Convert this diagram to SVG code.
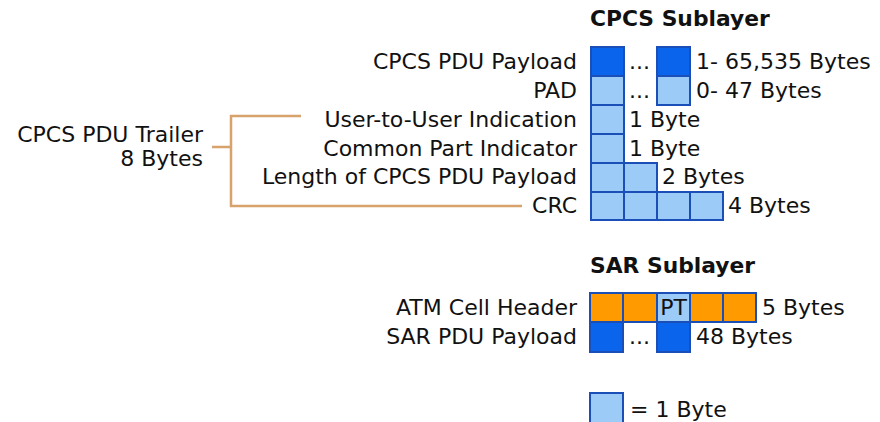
<svg xmlns="http://www.w3.org/2000/svg" width="880" height="422" viewBox="0 0 880 422">
<style>
text{font-family:"DejaVu Sans","Verdana",sans-serif;font-size:22px;fill:#111}
.t{font-weight:bold;font-size:21.8px}
.r{text-anchor:end}
.d{fill:#0a64ec;stroke:#1a4fb8;stroke-width:2}
.l{fill:#9ccbf8;stroke:#1a4fb8;stroke-width:2}
.o{fill:#ff9a00;stroke:#1a4fb8;stroke-width:2}
.br{fill:none;stroke:#d8a26c;stroke-width:2.5}
</style>
<rect width="880" height="422" fill="#fff"/>
<text class="t" x="590" y="26">CPCS Sublayer</text>
<g id="payload">
<text class="r" x="577" y="69">CPCS PDU Payload</text>
<rect class="d" x="591" y="47" width="33" height="29"/>
<text x="629" y="69">...</text>
<rect class="d" x="657" y="47" width="33" height="29"/>
<text x="696" y="69">1- 65,535 Bytes</text>
</g>
<g id="pad">
<text class="r" x="577" y="98">PAD</text>
<rect class="l" x="591" y="76" width="33" height="29"/>
<text x="629" y="98">...</text>
<rect class="l" x="657" y="76" width="33" height="29"/>
<text x="696" y="98">0- 47 Bytes</text>
</g>
<g id="uui">
<text class="r" x="577" y="127">User-to-User Indication</text>
<rect class="l" x="591" y="105" width="33" height="29"/>
<text x="629" y="127">1 Byte</text>
</g>
<g id="cpi">
<text class="r" x="577" y="156">Common Part Indicator</text>
<rect class="l" x="591" y="134" width="33" height="29"/>
<text x="629" y="156">1 Byte</text>
</g>
<g id="length">
<text class="r" x="577" y="184">Length of CPCS PDU Payload</text>
<rect class="l" x="591" y="163" width="33" height="29"/>
<rect class="l" x="624" y="163" width="33" height="29"/>
<text x="662" y="184">2 Bytes</text>
</g>
<g id="crc">
<text class="r" x="577" y="213">CRC</text>
<rect class="l" x="591" y="192" width="33" height="28"/>
<rect class="l" x="624" y="192" width="33" height="28"/>
<rect class="l" x="657" y="192" width="33" height="28"/>
<rect class="l" x="690" y="192" width="33" height="28"/>
<text x="728" y="213">4 Bytes</text>
</g>
<g id="trailer">
<text class="r" x="203" y="142">CPCS PDU Trailer</text>
<text class="r" x="203" y="166">8 Bytes</text>
</g>
<g id="connectors">
<path class="br" d="M301 116H231V206H522M212 147H231"/>
</g>
<text class="t" x="590" y="273">SAR Sublayer</text>
<g id="atm-header">
<text class="r" x="577" y="315">ATM Cell Header</text>
<rect class="o" x="590" y="293" width="33" height="29"/>
<rect class="o" x="623" y="293" width="34" height="29"/>
<rect class="l" x="657" y="293" width="33" height="29"/>
<text x="673.5" y="315" text-anchor="middle">PT</text>
<rect class="o" x="690" y="293" width="33" height="29"/>
<rect class="o" x="723" y="293" width="33" height="29"/>
<text x="762" y="315">5 Bytes</text>
</g>
<g id="sar-payload">
<text class="r" x="577" y="344">SAR PDU Payload</text>
<rect class="d" x="590" y="322" width="33" height="30"/>
<text x="629" y="344">...</text>
<rect class="d" x="657" y="322" width="33" height="30"/>
<text x="696" y="344">48 Bytes</text>
</g>
<g id="legend">
<rect class="l" x="590" y="393" width="33" height="30"/>
<text x="630" y="417">= 1 Byte</text>
</g>
</svg>
